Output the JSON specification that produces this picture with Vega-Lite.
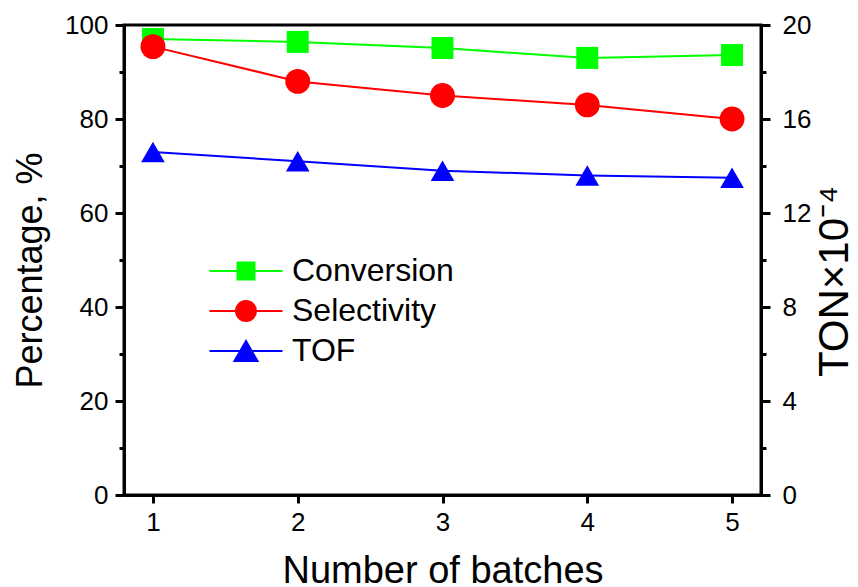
{
  "$schema": "https://vega.github.io/schema/vega-lite/v6.json",
  "width": 637,
  "height": 470,
  "autosize": {"type": "none"},
  "padding": {"left": 124, "top": 25, "right": 97, "bottom": 92},
  "config": {
    "font": "Liberation Sans",
    "view": {"stroke": "black", "strokeWidth": 3},
    "axis": {
      "grid": false,
      "domainColor": "black",
      "domainWidth": 3,
      "tickColor": "black",
      "tickWidth": 3,
      "labelFont": "Liberation Sans",
      "labelFontSize": 26,
      "labelColor": "black",
      "titleFont": "Liberation Sans",
      "titleFontSize": 38,
      "titleFontWeight": "normal",
      "titleColor": "black"
    }
  },
  "data": {
    "values": [
      {"batch": 1, "series": "Conversion", "value": 97.0},
      {"batch": 2, "series": "Conversion", "value": 96.4},
      {"batch": 3, "series": "Conversion", "value": 95.1},
      {"batch": 4, "series": "Conversion", "value": 93.0},
      {"batch": 5, "series": "Conversion", "value": 93.6},
      {"batch": 1, "series": "Selectivity", "value": 95.4},
      {"batch": 2, "series": "Selectivity", "value": 88.0},
      {"batch": 3, "series": "Selectivity", "value": 85.0},
      {"batch": 4, "series": "Selectivity", "value": 83.0},
      {"batch": 5, "series": "Selectivity", "value": 80.0},
      {"batch": 1, "series": "TOF", "value": 14.6},
      {"batch": 2, "series": "TOF", "value": 14.2},
      {"batch": 3, "series": "TOF", "value": 13.8},
      {"batch": 4, "series": "TOF", "value": 13.6},
      {"batch": 5, "series": "TOF", "value": 13.5}
    ]
  },
  "encoding": {
    "x": {
      "field": "batch",
      "type": "quantitative",
      "scale": {"domain": [0.8, 5.2], "nice": false, "zero": false},
      "axis": {
        "values": [1, 2, 3, 4, 5],
        "format": "d",
        "title": "Number of batches",
        "tickSize": 8,
        "labelPadding": 6,
        "titlePadding": 17
      }
    },
    "color": {
      "field": "series",
      "type": "nominal",
      "scale": {
        "domain": ["Conversion", "Selectivity", "TOF"],
        "range": ["#00ff00", "#ff0000", "#0000ff"]
      },
      "legend": {
        "orient": "none",
        "legendX": 106,
        "legendY": 230,
        "title": null,
        "padding": 0,
        "labelFont": "Liberation Sans",
        "labelFontSize": 32,
        "labelColor": "black",
        "labelLimit": 400,
        "labelOffset": 30,
        "symbolSize": 400,
        "symbolType": "M-3.65,0H3.65M-0.85,-0.85H0.85V0.85H-0.85Z",
        "rowPadding": 8,
        "encode": {
          "symbols": {
            "update": {
              "shape": {"signal": "datum.value === 'Conversion' ? 'M-3.65,0H3.65M-0.85,-0.85H0.85V0.85H-0.85Z' : datum.value === 'Selectivity' ? 'M-3.65,0H3.65M1,0A1,1 0 1,1 -1,0A1,1 0 1,1 1,0Z' : 'M-3.65,0H3.65M0,-1L1.15,1L-1.15,1Z'"},
              "fill": {"signal": "datum.value === 'Conversion' ? '#00ff00' : datum.value === 'Selectivity' ? '#ff0000' : '#0000ff'"},
              "stroke": {"signal": "datum.value === 'Conversion' ? '#00ff00' : datum.value === 'Selectivity' ? '#ff0000' : '#0000ff'"},
              "strokeWidth": {"value": 2},
              "opacity": {"value": 1},
              "fillOpacity": {"value": 1}
            }
          }
        }
      }
    }
  },
  "layer": [
    {
      "transform": [{"filter": "datum.series !== 'TOF'"}],
      "encoding": {
        "y": {
          "field": "value",
          "type": "quantitative",
          "scale": {"domain": [0, 100], "nice": false},
          "axis": {
            "orient": "left",
            "values": [0, 10, 20, 30, 40, 50, 60, 70, 80, 90, 100],
            "labelExpr": "datum.value % 20 === 0 ? datum.label : ''",
            "tickSize": {"condition": {"test": "datum.value % 20 !== 0", "value": 5}, "value": 9},
            "labelPadding": 7,
            "title": "Percentage, %",
            "titleFontSize": 36,
            "titlePadding": 15,
            "titleY": 245
          }
        }
      },
      "layer": [
        {"mark": {"type": "line", "strokeWidth": 2}},
        {
          "transform": [{"filter": "datum.series === 'Conversion'"}],
          "mark": {"type": "point", "shape": "square", "size": 484, "filled": true, "opacity": 1}
        },
        {
          "transform": [{"filter": "datum.series === 'Selectivity'"}],
          "mark": {"type": "point", "shape": "circle", "size": 620, "filled": true, "opacity": 1}
        }
      ]
    },
    {
      "transform": [{"filter": "datum.series === 'TOF'"}],
      "encoding": {
        "y": {
          "field": "value",
          "type": "quantitative",
          "scale": {"domain": [0, 20], "nice": false},
          "axis": {
            "orient": "right",
            "values": [0, 2, 4, 6, 8, 10, 12, 14, 16, 18, 20],
            "labelExpr": "datum.value % 4 === 0 ? datum.label : ''",
            "tickSize": {"condition": {"test": "datum.value % 4 !== 0", "value": 5}, "value": 9},
            "labelPadding": 12,
            "title": "TON×10⁻⁴",
            "titleFontSize": 42,
            "titleAngle": 270,
            "titleBaseline": "top",
            "titlePadding": 4,
            "titleY": 256
          }
        }
      },
      "layer": [
        {"mark": {"type": "line", "strokeWidth": 2}},
        {"mark": {"type": "point", "shape": "triangle-up", "size": 560, "filled": true, "opacity": 1}}
      ]
    }
  ],
  "resolve": {"scale": {"y": "independent"}}
}
